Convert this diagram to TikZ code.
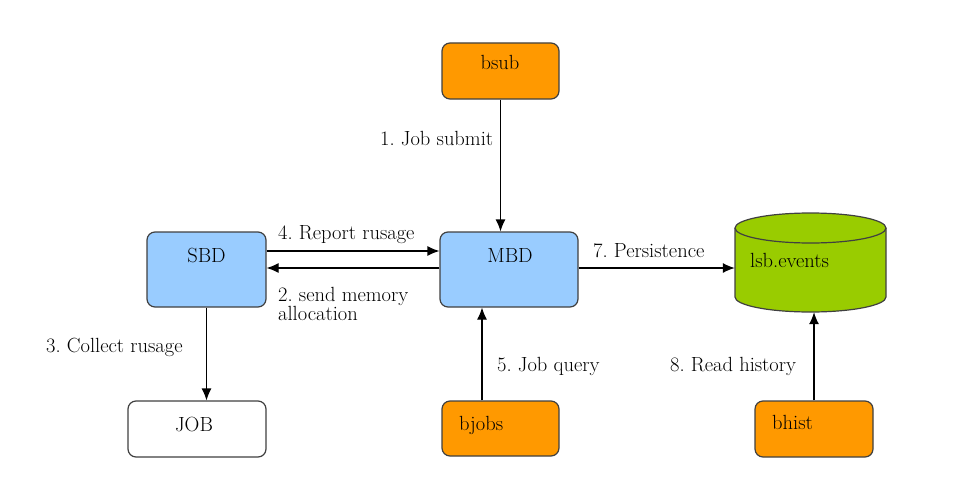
\documentclass[tikz,border=0pt]{standalone}
\usetikzlibrary{arrows.meta}
\definecolor{boxline}{HTML}{404040}
\definecolor{bluefill}{HTML}{99CCFF}
\definecolor{orangefill}{HTML}{FF9900}
\definecolor{greenfill}{HTML}{99CC00}
\frenchspacing
\begin{document}
\begin{tikzpicture}[x=1pt,y=1pt,
  box/.style={draw=boxline,line width=1.2pt,rounded corners=8pt,inner sep=0pt},
  bluebox/.style={box,fill=bluefill},
  orangebox/.style={box,fill=orangefill},
  whitebox/.style={box,fill=white},
  txt/.style={inner sep=0pt,anchor=base west,font=\fontsize{20.5}{19}\selectfont},
  ctxt/.style={inner sep=0pt,anchor=base,font=\fontsize{20.5}{19}\selectfont},
  arr/.style={line width=1.2pt,-{Latex[length=12pt,width=10pt]}}]
\path[use as bounding box] (0,0) rectangle (960,-503);
% boxes
\node[orangebox,minimum width=117pt,minimum height=56pt] (bsub) at (500.5,-71) {};
\node[bluebox,minimum width=119pt,minimum height=75pt] (SBD) at (206.5,-269.5) {};
\node[bluebox,minimum width=138pt,minimum height=75pt] (MBD) at (509,-269.5) {};
\node[whitebox,minimum width=138pt,minimum height=56pt] (JOB) at (197,-429) {};
\node[orangebox,minimum width=117pt,minimum height=55pt] (bjobs) at (500.5,-428.5) {};
\node[orangebox,minimum width=118pt,minimum height=56pt] (bhist) at (814,-429) {};
% cylinder (database)
\node[inner sep=0pt,minimum width=151pt,minimum height=99pt] (db) at (810.5,-262.5) {};
\fill[greenfill] (735,-228) -- (735,-297) arc[start angle=180,end angle=360,x radius=75.5,y radius=15]
  -- (886,-228) arc[start angle=0,end angle=180,x radius=75.5,y radius=15] -- cycle;
\draw[boxline,line width=1.2pt] (735,-228) -- (735,-297) arc[start angle=180,end angle=360,x radius=75.5,y radius=15]
  -- (886,-228);
\draw[boxline,line width=1.2pt] (810.5,-228) ellipse[x radius=75.5,y radius=15];
% box texts
\node[ctxt] (tbsub) at (500,-70) {bsub};
\node[ctxt] (tSBD) at (206.5,-262) {SBD};
\node[ctxt] (tMBD) at (510,-262) {MBD};
\node[ctxt] (tJOB) at (194,-431) {JOB};
\node[txt] (tbjobs) at (459,-430) {bjobs};
\node[txt] (tbhist) at (772,-429) {bhist};
\node[txt] (tdb) at (750,-267) {lsb.events};
% connectors
\draw[arr] (bsub.south) -- (bsub.south |- MBD.north);
\draw[arr] ([yshift=18.5pt]SBD.east) -- ([yshift=18.5pt]SBD.east -| MBD.west);
\draw[arr] ([yshift=1.5pt]MBD.west) -- ([yshift=1.5pt]MBD.west -| SBD.east);
\draw[arr] (SBD.south) -- (SBD.south |- JOB.north);
\draw[arr] ([xshift=-18.5pt]bjobs.north) -- ([xshift=-18.5pt]bjobs.north |- MBD.south);
\draw[arr] ([yshift=1.5pt]MBD.east) -- ([yshift=1.5pt]MBD.east -| db.west);
\draw[arr] (bhist.north) -- (bhist.north |- db.south);
% labels
\node[txt] (l1) at (380,-145) {1. Job submit};
\node[txt] (l4) at (278,-239) {4. Report rusage};
\node[txt] (l2a) at (278,-301) {2. send memory};
\node[txt] (l2b) at (278,-320) {allocation};
\node[txt] (l3) at (46,-352) {3. Collect rusage};
\node[txt] (l7) at (593,-257) {7. Persistence};
\node[txt] (l5) at (497,-371) {5. Job query};
\node[txt] (l8) at (670,-371) {8. Read history};
\end{tikzpicture}
\end{document}
